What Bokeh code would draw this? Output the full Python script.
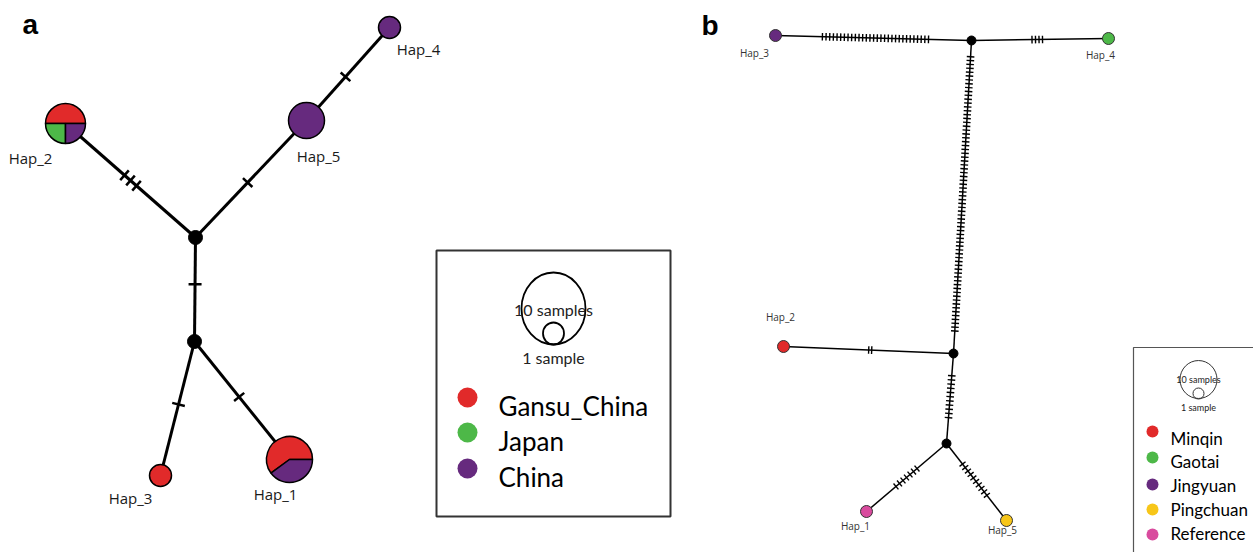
import math
from bokeh.plotting import figure
from bokeh.models import Range1d
from bokeh.core.properties import value
from bokeh.embed import file_html
from bokeh.resources import INLINE

# ---------------- data (layout coordinates in page pixels, y downward) ----------------
GROUPS_A = ["Gansu_China", "Japan", "China"]
COLORS_A = ["#E12A2A", "#4DB848", "#662A7E"]

# panel a haplotype nodes
a_names = ["Hap_1", "Hap_2", "Hap_3", "Hap_4", "Hap_5"]
a_x = [289, 65, 160, 389, 306]
a_y = [459, 123, 475, 27, 120]
a_r = [23, 20, 11, 11, 18]
# counts per group (Gansu_China, Japan, China)
a_counts = [[3, 0, 2], [2, 1, 1], [1, 0, 0], [0, 0, 1], [0, 0, 1]]
a_lab_x = [275, 30, 130, 418, 318]
a_lab_y = [493, 157, 497, 48, 155]

# panel a median vectors
a_med_names = ["M1", "M2"]
a_med_x = [195, 194]
a_med_y = [237, 341]

# panel a edges: from, to, mutations, tick centre fraction
a_edges_from = ["M1", "M1", "Hap_5", "M1", "M2", "M2"]
a_edges_to = ["Hap_2", "Hap_5", "Hap_4", "M2", "Hap_3", "Hap_1"]
a_edges_mut = [3, 1, 1, 1, 1, 1]
a_edges_pos = [0.5, 0.47, 0.47, 0.45, 0.47, 0.47]

# panel b
GROUPS_B = ["Minqin", "Gaotai", "Jingyuan", "Pingchuan", "Reference"]
COLORS_B = ["#E12A2A", "#4DB848", "#662A7E", "#F7C619", "#D94B9E"]
b_names = ["Hap_1", "Hap_2", "Hap_3", "Hap_4", "Hap_5"]
b_x = [866, 783, 775, 1108, 1006]
b_y = [511, 346, 35, 38, 520]
b_group = ["Reference", "Minqin", "Jingyuan", "Gaotai", "Pingchuan"]
b_lab_x = [855, 780, 754, 1100, 1002]
b_lab_y = [525, 316, 52, 54, 529]

b_med_names = ["T", "M", "B"]
b_med_x = [971, 953, 946]
b_med_y = [40, 353, 443]

b_edges_from = ["Hap_3", "T", "T", "M", "M", "B", "B"]
b_edges_to = ["T", "Hap_4", "M", "Hap_2", "B", "Hap_1", "Hap_5"]
b_edges_mut = [30, 4, 72, 2, 11, 7, 10]
b_edges_pos = [0.51, 0.48, 0.49, 0.49, 0.48, 0.5, 0.47]
b_edges_gap = [3.66, 3.5, 3.87, 3.0, 4.2, 4.6, 4.4]

# ---------------- figure ----------------
W, H = 1253, 552
p = figure(width=W, height=H, output_backend="svg", toolbar_location=None,
           x_range=Range1d(0, W), y_range=Range1d(0, H),
           x_axis_location=None, y_axis_location=None, min_border=0)
p.grid.visible = False
p.outline_line_color = None
p.background_fill_color = "white"
p.border_fill_color = "white"


def Y(sy):
    return 552 - sy


def draw_network(pos, e_from, e_to, e_mut, e_pos, e_gap, lw, tick_half, tick_w):
    sx0, sy0, sx1, sy1 = [], [], [], []
    tx0, ty0, tx1, ty1 = [], [], [], []
    for f, t, n, c, g in zip(e_from, e_to, e_mut, e_pos, e_gap):
        x0, y0 = pos[f]
        x1, y1 = pos[t]
        sx0.append(x0); sy0.append(y0); sx1.append(x1); sy1.append(y1)
        L = math.hypot(x1 - x0, y1 - y0)
        dx, dy = (x1 - x0) / L, (y1 - y0) / L
        nx, ny = -dy, dx
        cx, cy = x0 + c * (x1 - x0), y0 + c * (y1 - y0)
        for i in range(n):
            o = (i - (n - 1) / 2) * g
            px, py = cx + o * dx, cy + o * dy
            tx0.append(px - tick_half * nx); ty0.append(py - tick_half * ny)
            tx1.append(px + tick_half * nx); ty1.append(py + tick_half * ny)
    p.segment(sx0, sy0, sx1, sy1, line_color="black", line_width=lw)
    p.segment(tx0, ty0, tx1, ty1, line_color="black", line_width=tick_w)


# ---- panel a ----
pos_a = {n: (x, Y(y)) for n, x, y in zip(a_names, a_x, a_y)}
pos_a.update({n: (x, Y(y)) for n, x, y in zip(a_med_names, a_med_x, a_med_y)})
draw_network(pos_a, a_edges_from, a_edges_to, a_edges_mut, a_edges_pos,
             [8] * len(a_edges_from), 3.0, 6.5, 2.5)

wx, wy, wr, ws, we, wc = [], [], [], [], [], []
cx, cy, cr, cc = [], [], [], []
for n, x, y, r, cnt in zip(a_names, a_x, a_y, a_r, a_counts):
    tot = sum(cnt)
    nz = [i for i, v in enumerate(cnt) if v > 0]
    if len(nz) == 1:
        cx.append(x); cy.append(Y(y)); cr.append(r); cc.append(COLORS_A[nz[0]])
        continue
    a0 = 0.0
    for i, v in enumerate(cnt):
        if v == 0:
            continue
        a1 = a0 + 2 * math.pi * v / tot
        wx.append(x); wy.append(Y(y)); wr.append(r); ws.append(a0); we.append(a1)
        wc.append(COLORS_A[i])
        a0 = a1
p.wedge(x=wx, y=wy, radius=wr, start_angle=ws, end_angle=we, fill_color=wc,
        line_color="black", line_width=1.5)
p.circle(x=cx, y=cy, radius=cr, fill_color=cc, line_color="black", line_width=1.5)
p.circle(x=a_med_x, y=[Y(v) for v in a_med_y], radius=7, fill_color="black", line_color="black")
p.text(x=a_lab_x, y=[Y(v) for v in a_lab_y], text=a_names, text_align="center",
       text_baseline="middle", text_font=value("Open Sans"), text_font_size="15px",
       text_color="#1a1a1a")

# legend a
p.quad(left=[436], right=[670], top=[Y(250)], bottom=[Y(516)], fill_color=None,
       line_color="#333333", line_width=2)
p.ellipse(x=[553], y=[Y(308)], width=[64], height=[72], fill_color=None,
          line_color="black", line_width=1.8)
p.ellipse(x=[553], y=[Y(333)], width=[21], height=[22], fill_color=None,
          line_color="black", line_width=1.8)
p.text(x=[553, 553], y=[Y(309), Y(357)], text=["10 samples", "1 sample"],
       text_align="center", text_baseline="middle", text_font=value("Lato"),
       text_font_size="16px", text_color="#222222")
leg_a_y = [397, 432, 468]
leg_a_text_y = [405, 440, 476]
p.circle(x=[467] * 3, y=[Y(v) for v in leg_a_y], radius=10, fill_color=COLORS_A,
         line_color=None)
p.text(x=[498] * 3, y=[Y(v) for v in leg_a_text_y], text=GROUPS_A, text_align="left",
       text_baseline="middle", text_font=value("Lato"), text_font_size="26px",
       text_color="black")

# ---- panel b ----
pos_b = {n: (x, Y(y)) for n, x, y in zip(b_names, b_x, b_y)}
pos_b.update({n: (x, Y(y)) for n, x, y in zip(b_med_names, b_med_x, b_med_y)})
draw_network(pos_b, b_edges_from, b_edges_to, b_edges_mut, b_edges_pos,
             b_edges_gap, 1.5, 3.8, 1.4)
p.circle(x=b_x, y=[Y(v) for v in b_y], radius=6,
         fill_color=[COLORS_B[GROUPS_B.index(g)] for g in b_group],
         line_color="#333333", line_width=1)
p.circle(x=b_med_x, y=[Y(v) for v in b_med_y], radius=4.5, fill_color="black",
         line_color="black")
p.text(x=b_lab_x, y=[Y(v) for v in b_lab_y], text=b_names, text_align="center",
       text_baseline="middle", text_font=value("Open Sans"), text_font_size="10px",
       text_color="#333333")

# legend b
p.quad(left=[1133], right=[1260], top=[Y(347)], bottom=[Y(560)], fill_color=None,
       line_color="#555555", line_width=1.2)
p.ellipse(x=[1198], y=[Y(379)], width=[37], height=[38], fill_color=None,
          line_color="#333333", line_width=1)
p.ellipse(x=[1198], y=[Y(393)], width=[11], height=[11], fill_color=None,
          line_color="#333333", line_width=1)
p.text(x=[1198, 1198], y=[Y(379), Y(407)], text=["10 samples", "1 sample"],
       text_align="center", text_baseline="middle", text_font=value("Lato"),
       text_font_size="9px", text_color="#222222")
leg_b_y = [431, 457, 484, 509, 534]
leg_b_text_y = [438, 461, 485, 509, 533]
p.circle(x=[1152] * 5, y=[Y(v) for v in leg_b_y], radius=6, fill_color=COLORS_B,
         line_color=None)
p.text(x=[1170] * 5, y=[Y(v) for v in leg_b_text_y], text=GROUPS_B, text_align="left",
       text_baseline="middle", text_font=value("Lato"), text_font_size="17px",
       text_color="black")

# panel letters
p.text(x=[22, 701], y=[Y(24), Y(25)], text=["a", "b"], text_align="left",
       text_baseline="middle", text_font=value("Liberation Sans"),
       text_font_style="bold", text_font_size="28px", text_color="black")

open("out.html", "w").write(file_html(p, INLINE))
